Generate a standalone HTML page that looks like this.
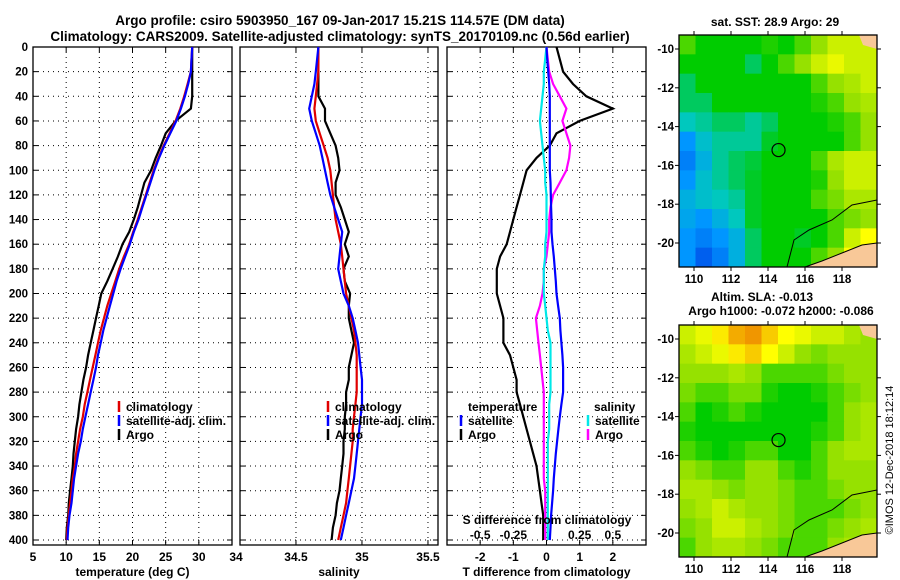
<!DOCTYPE html>
<html><head><meta charset="utf-8">
<style>
body{margin:0;background:#fff}
svg{display:block;font-family:"Liberation Sans",Arial,sans-serif;font-weight:bold}
text{fill:#000}
</style></head>
<body>
<svg id="fig" width="900" height="580" viewBox="0 0 900 580">
<text x="340" y="25" font-size="13.5" text-anchor="middle">Argo profile: csiro 5903950_167 09-Jan-2017 15.21S 114.57E (DM data)</text>
<text x="340" y="41" font-size="13.5" text-anchor="middle">Climatology: CARS2009. Satellite-adjusted climatology: synTS_20170109.nc (0.56d earlier)</text>
<g id="g"></g>
<text transform="translate(893,460) rotate(-90)" font-size="11" font-weight="normal" text-anchor="middle">©IMOS 12-Dec-2018 18:12:14</text>
</svg>
<script>
const depths=[0,10,20,30,40,50,60,70,80,90,100,110,120,130,140,150,160,170,180,190,200,210,220,230,240,250,260,270,280,290,300,310,320,330,340,350,360,370,380,390,400];
const tempArgo=[29,29,29,29,29,28.8,26.5,25,24.3,23.5,22.8,21.8,21.3,20.8,20.2,19.5,18.5,17.8,17,16.2,15.3,14.9,14.5,14.1,13.7,13.3,13,12.6,12.3,12,11.8,11.5,11.3,11.1,11,10.8,10.6,10.4,10.3,10.1,10];
const tempClim=[29,28.9,28.8,28.3,27.8,27.2,26.5,25.6,24.7,23.9,23.2,22.6,22,21.4,20.8,20.1,19.5,18.7,18,17.4,16.8,16.2,15.7,15.2,14.8,14.4,14,13.6,13.2,12.8,12.5,12.1,11.8,11.5,11.3,11,10.8,10.6,10.4,10.2,10.1];
const tempSat=[29,28.9,28.8,28.4,27.9,27.3,26.6,25.7,24.8,24,23.3,22.7,22.1,21.5,20.9,20.2,19.6,18.9,18.2,17.6,17.1,16.6,16.1,15.6,15.2,14.8,14.5,14.1,13.7,13.3,12.9,12.5,12.2,11.8,11.5,11.2,11,10.8,10.5,10.3,10.2];
const salArgo=[34.67,34.67,34.67,34.67,34.67,34.72,34.72,34.76,34.8,34.82,34.83,34.8,34.8,34.84,34.87,34.9,34.87,34.9,34.86,34.87,34.91,34.9,34.9,34.92,34.94,34.92,34.9,34.9,34.88,34.88,34.87,34.87,34.86,34.86,34.85,34.84,34.83,34.81,34.8,34.78,34.77];
const salClim=[34.67,34.67,34.67,34.66,34.65,34.64,34.65,34.68,34.71,34.74,34.76,34.77,34.78,34.79,34.8,34.82,34.84,34.85,34.86,34.87,34.88,34.9,34.92,34.94,34.95,34.96,34.96,34.96,34.96,34.95,34.94,34.93,34.93,34.92,34.91,34.9,34.89,34.88,34.86,34.84,34.82];
const salSat=[34.67,34.66,34.65,34.64,34.62,34.6,34.62,34.65,34.68,34.7,34.72,34.74,34.76,34.79,34.82,34.85,34.84,34.83,34.82,34.84,34.86,34.9,34.93,34.95,34.97,34.98,34.99,35,35,35,34.99,34.98,34.97,34.96,34.95,34.94,34.92,34.9,34.88,34.86,34.84];
const dtArgo=[0.3,0.4,0.5,0.8,1.2,2,1,0.3,0.1,-0.3,-0.6,-0.7,-0.8,-0.9,-1,-1.1,-1.2,-1.4,-1.5,-1.5,-1.5,-1.4,-1.3,-1.3,-1.3,-1.1,-1,-0.9,-0.9,-0.8,-0.7,-0.6,-0.5,-0.4,-0.3,-0.25,-0.2,-0.15,-0.1,-0.1,-0.1];
const dtSat=[0,0.02,0.05,0.08,0.1,0.1,0.1,0.1,0.1,0.1,0.1,0.12,0.13,0.14,0.15,0.15,0.18,0.22,0.25,0.28,0.3,0.35,0.4,0.42,0.45,0.48,0.5,0.5,0.5,0.45,0.4,0.36,0.32,0.28,0.25,0.22,0.2,0.17,0.14,0.12,0.1];
const dsArgo=[0,0.01,0.02,0.05,0.1,0.15,0.12,0.15,0.18,0.17,0.15,0.1,0.05,0.03,0.02,0.02,0.01,0,-0.02,-0.02,-0.03,-0.05,-0.08,-0.07,-0.06,-0.05,-0.04,-0.03,-0.02,-0.02,-0.02,-0.02,-0.02,-0.02,-0.02,-0.02,-0.01,-0.01,-0.01,-0.01,-0.01];
const dsSat=[0,-0.01,-0.02,-0.02,-0.03,-0.04,-0.05,-0.04,-0.03,-0.02,-0.01,-0.01,0,0,0,0,-0.01,-0.01,-0.02,-0.02,-0.02,-0.01,0,0.01,0.03,0.03,0.03,0.03,0.03,0.02,0.02,0.02,0.01,0.01,0.01,0.01,0.01,0.01,0.01,0.01,0.01];
const depthTicks=[0,20,40,60,80,100,120,140,160,180,200,220,240,260,280,300,320,340,360,380,400];
const tempTicks=[5,10,15,20,25,30,35];
const tempTickLabels=["5","10","15","20","25","30",""];
const salTicks=[34,34.5,35,35.5];
const dtTicks=[-2,-1,0,1,2];
const dsTicks=[-0.5,-0.25,0.25,0.5];
const dsTickLabels=["-0.5","-0.25","0.25","0.5"];
const lats=[-10,-12,-14,-16,-18,-20];
const lons=[110,112,114,116,118];
const sstField=[
[.55,.5,.5,.5,.5,.52,.5,.55,.6,.65,.65,.65],
[.5,.5,.5,.5,.45,.5,.55,.6,.65,.68,.65,.65],
[.45,.5,.5,.5,.5,.5,.5,.5,.55,.6,.62,.65],
[.45,.45,.5,.5,.5,.5,.5,.5,.52,.55,.6,.62],
[.4,.42,.45,.45,.42,.45,.5,.5,.5,.52,.55,.6],
[.3,.38,.42,.42,.42,.48,.5,.5,.5,.5,.55,.6],
[.28,.35,.42,.45,.47,.5,.5,.5,.55,.62,.65,.65],
[.3,.38,.42,.45,.48,.5,.5,.5,.52,.6,.65,.65],
[.35,.38,.4,.42,.48,.5,.5,.5,.55,.58,.62,.62],
[.33,.3,.35,.4,.48,.5,.5,.5,.5,.55,.58,.6],
[.3,.28,.3,.35,.45,.5,.5,.48,.5,.55,.65,.7],
[.3,.25,.28,.35,.45,.5,.5,.5,.55,.6,.7,.75]];
const slaField=[
[.65,.68,.72,.78,.8,.75,.7,.68,.65,.65,.62,.6],
[.62,.65,.68,.72,.75,.7,.65,.6,.58,.6,.6,.6],
[.6,.6,.6,.62,.6,.55,.55,.55,.55,.58,.6,.6],
[.58,.55,.55,.58,.58,.52,.5,.5,.52,.55,.58,.6],
[.55,.5,.52,.55,.52,.5,.5,.5,.5,.55,.6,.62],
[.52,.5,.5,.5,.5,.5,.5,.5,.52,.55,.6,.62],
[.55,.52,.5,.52,.55,.55,.5,.5,.55,.6,.62,.62],
[.6,.58,.55,.55,.6,.6,.55,.52,.55,.6,.6,.6],
[.62,.62,.6,.58,.6,.6,.58,.55,.55,.58,.6,.6],
[.6,.62,.65,.62,.6,.6,.58,.55,.55,.55,.58,.6],
[.58,.6,.65,.65,.62,.6,.58,.55,.55,.58,.6,.62],
[.55,.6,.62,.62,.6,.58,.55,.55,.55,.6,.62,.62]];

const NS="http://www.w3.org/2000/svg";
const G=document.getElementById('g');
function mk(tag,attrs,parent){const e=document.createElementNS(NS,tag);for(const k in attrs)e.setAttribute(k,attrs[k]);(parent||G).appendChild(e);return e;}
function txt(x,y,s,size,anchor,parent,fill){const t=mk('text',{x:x,y:y,'font-size':size,'text-anchor':anchor||'middle'},parent);if(fill)t.setAttribute('fill',fill);t.textContent=s;return t;}

const TOP=47,BOT=545;
const yD=d=>TOP+d*(493/400);
function panel(x0,x1,xmin,xmax,ticks,labels,name,xtitle){
  const g=mk('g',{});
  
  
  const sx=v=>x0+(v-xmin)/(xmax-xmin)*(x1-x0);
  depthTicks.forEach(d=>{const y=yD(d);
    mk('line',{x1:x0,x2:x1,y1:y,y2:y,stroke:'#000','stroke-width':1,'stroke-dasharray':'1,4'},g);
    mk('line',{x1:x0,x2:x0+5,y1:y,y2:y,stroke:'#000'},g);
    mk('line',{x1:x1-5,x2:x1,y1:y,y2:y,stroke:'#000'},g);});
  ticks.forEach((v,i)=>{const x=sx(v);
    const inside=x>=x0-0.5&&x<=x1+0.5;
    if(x>x0+1&&x<x1-1){mk('line',{x1:x,x2:x,y1:TOP,y2:BOT,stroke:'#000','stroke-dasharray':'1,4'},g);}
    if(inside){mk('line',{x1:x,x2:x,y1:BOT,y2:BOT-5,stroke:'#000'},g);
    mk('line',{x1:x,x2:x,y1:TOP,y2:TOP+5,stroke:'#000'},g);}
    const lx=Math.max(x,x0-4);
    const t=txt(lx,561,labels[i],12,'middle',g);
    
    });
  mk('rect',{x:x0,y:TOP,width:x1-x0,height:BOT-TOP,fill:'none',stroke:'#000','stroke-width':1.3},g);
  const xt=txt((x0+x1)/2,576,xtitle,12,'middle',g);
  
  
  return {g,sx};
}
function line(p,vals,color,name,scale){
  const pts=vals.map((v,i)=>{const x=p.sx(v*(scale||1));return x.toFixed(1)+','+yD(depths[i]).toFixed(1);}).join(' ');
  const pl=mk('polyline',{points:pts,fill:'none',stroke:color,'stroke-width':2.2},p.g);
  
  
}
function legend(p,x,y,items){
  items.forEach((it,i)=>{const yy=y+i*14;
    mk('line',{x1:x,x2:x,y1:yy-10,y2:yy+1,stroke:it[1],'stroke-width':2.5},p.g);
    const t=txt(x+7,yy,it[0],12,'start',p.g);
    
    });
}
const p1=panel(33,232,5,35,tempTicks,tempTickLabels,'temperature-panel','temperature (deg C)');
depthTicks.forEach(d=>{const t=txt(28,yD(d)+4,String(d),11.5,'end');
  
  });
line(p1,tempArgo,'#000','temp-argo-line');
line(p1,tempClim,'#e00000','temp-clim-line');
line(p1,tempSat,'#0000ff','temp-sat-line');
legend(p1,119,411,[['climatology','#e00000'],['satellite-adj. clim.','#0000ff'],['Argo','#000']]);
const p2=panel(240,438,34.076,35.576,salTicks,salTicks.map(String),'salinity-panel','salinity');
line(p2,salArgo,'#000','sal-argo-line');
line(p2,salClim,'#e00000','sal-clim-line');
line(p2,salSat,'#0000ff','sal-sat-line');
legend(p2,328,411,[['climatology','#e00000'],['satellite-adj. clim.','#0000ff'],['Argo','#000']]);
const p3=panel(447,646,-3,3,dtTicks,dtTicks.map(String),'difference-panel','T difference from climatology');
line(p3,dtArgo,'#000','dt-argo-line');
line(p3,dsArgo,'#ff00ff','ds-argo-line',4);
line(p3,dsSat,'#00e8e8','ds-sat-line',4);
line(p3,dtSat,'#0000ff','dt-sat-line');
txt(468,411,'temperature',12,'start',p3.g);
legend(p3,461,425,[['satellite','#0000ff'],['Argo','#000']]);
txt(594,411,'salinity',12,'start',p3.g);
legend(p3,588,425,[['satellite','#00e8e8'],['Argo','#ff00ff']]);
txt(547,524,'S difference from climatology',12,'middle',p3.g);
dsTicks.forEach((v,i)=>{const t=txt(p3.sx(v*4),539,dsTickLabels[i],12,'middle',p3.g);
  
  });

const cmapStops=[[0.2,[0,40,220]],[0.3,[0,150,255]],[0.4,[0,200,190]],[0.5,[0,204,0]],[0.6,[150,225,0]],[0.7,[255,255,0]],[0.8,[240,150,0]]];
function cmap(v){if(v<=cmapStops[0][0])return 'rgb('+cmapStops[0][1]+')';
  for(let i=1;i<cmapStops.length;i++){if(v<=cmapStops[i][0]){const a=cmapStops[i-1],b=cmapStops[i];const t=(v-a[0])/(b[0]-a[0]);
    return 'rgb('+a[1].map((c,k)=>Math.round(c+(b[1][k]-c)*t)).join(',')+')';}}
  return 'rgb('+cmapStops[cmapStops.length-1][1]+')';}
function map(y0,field,name,xlabY){
  const x0=679,x1=877,y1=y0+232;
  const g=mk('g',{});
  
  
  const lonX=l=>694+(l-110)*18.5;
  const latY=l=>y0+14+(-10-l)*19.4;
  const rows=field.length,cols=field[0].length,cw=(x1-x0)/cols,ch=(y1-y0)/rows;
  field.forEach((r,i)=>r.forEach((v,j)=>{
    const c=mk('rect',{x:x0+j*cw,y:y0+i*ch,width:cw+0.5,height:ch+0.5,fill:cmap(v)},g);
    
    }));
  const land=mk('polygon',{points:`${x1},${y0+208} ${x1-15},${y0+210} ${x1-35},${y0+218} ${x1-55},${y0+226} ${x1-72},${y1} ${x1},${y1}`,fill:'#f8c898'},g);
  
  
  mk('polygon',{points:`${x1-18},${y0} ${x1},${y0} ${x1},${y0+14} ${x1-14},${y0+10}`,fill:'#f8c898'},g);
  mk('polyline',{points:`${x1},${y0+165} ${x1-25},${y0+170} ${x1-45},${y0+185} ${x1-68},${y0+195} ${x1-83},${y0+205} ${x1-90},${y1}`,fill:'none',stroke:'#000','stroke-width':1},g);
  mk('polyline',{points:`${x1},${y0+208} ${x1-15},${y0+210} ${x1-35},${y0+218} ${x1-55},${y0+226} ${x1-72},${y1}`,fill:'none',stroke:'#000','stroke-width':1},g);
  const fl=mk('circle',{cx:lonX(114.57),cy:latY(-15.21),r:6.5,fill:'none',stroke:'#000','stroke-width':1.2},g);
  
  
  mk('rect',{x:x0,y:y0,width:x1-x0,height:y1-y0,fill:'none',stroke:'#000','stroke-width':1.3},g);
  lats.forEach(l=>{const y=latY(l);
    mk('line',{x1:x0-4,x2:x0,y1:y,y2:y,stroke:'#000'},g);
    mk('line',{x1:x1,x2:x1+4,y1:y,y2:y,stroke:'#000'},g);
    const t=txt(x0-5,y+4,String(l),11.5,'end',g);
    
    });
  lons.forEach(l=>{const x=lonX(l);
    mk('line',{x1:x,x2:x,y1:y1,y2:y1+4,stroke:'#000'},g);
    mk('line',{x1:x,x2:x,y1:y0-4,y2:y0,stroke:'#000'},g);
    const t=txt(x,xlabY,String(l),11.5,'middle',g);
    
    });
}
map(35,sstField,'sst-map',283);
map(325,slaField,'sla-map',573);
txt(775,26,'sat. SST: 28.9 Argo: 29',12,'middle');
txt(762,301,'Altim. SLA: -0.013',12,'middle');
txt(781,315,'Argo h1000: -0.072 h2000: -0.086',12,'middle');
</script>
</body></html>
